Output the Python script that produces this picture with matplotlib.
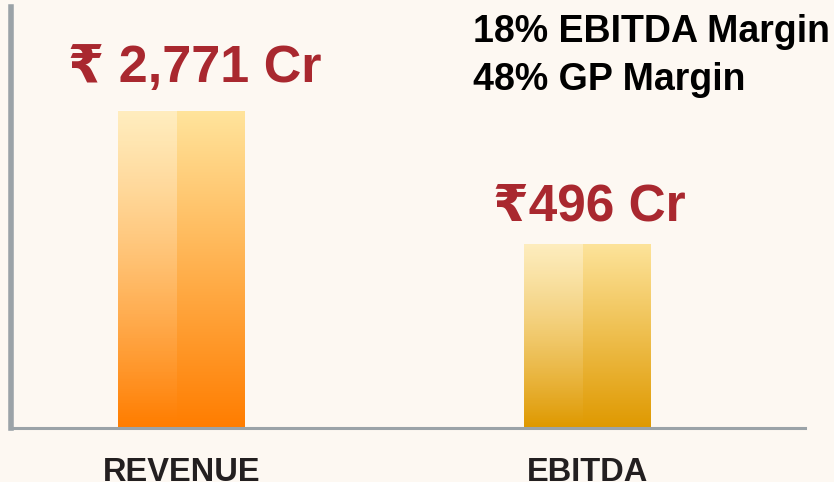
import numpy as np
import matplotlib
matplotlib.use("Agg")
import matplotlib.pyplot as plt
from matplotlib.colors import LinearSegmentedColormap

plt.rcParams['font.family'] = ['Liberation Sans', 'DejaVu Sans']

# ---- data ----
categories = ["REVENUE", "EBITDA"]
bar_heights = [75.3, 43.7]          # visual bar heights (axis units)
value_labels = ["\u20b9 2,771 Cr", "\u20b9496 Cr"]
margin_lines = ["18% EBITDA Margin", "48% GP Margin"]
top_colors = ["#FFE49C", "#FDE39A"]
bottom_colors = ["#FF7D00", "#DF9900"]

BG = "#FDF8F2"
RED = "#A9282F"
SPINE = "#9BA3A8"

fig = plt.figure(figsize=(8.34, 4.82), dpi=100, facecolor=BG)
W, H = 834, 482
ax = fig.add_axes([11 / W, (H - 428) / H, (805 - 11) / W, (428 - 7) / H])
ax.set_facecolor(BG)

x = np.arange(len(categories))
width = 0.313
bars = ax.bar(x, bar_heights, width=width, color="none", edgecolor="none", zorder=2)

ax.set_xlim(-0.4205, 1.5376)
ax.set_ylim(0, 100)

grad = np.linspace(1, 0, 256).reshape(-1, 1)
for i, b in enumerate(bars):
    x0, y0 = b.get_x(), b.get_y()
    w, h = b.get_width(), b.get_height()
    cmap = LinearSegmentedColormap.from_list("g%d" % i, [bottom_colors[i], top_colors[i]])
    im = ax.imshow(grad, cmap=cmap, vmin=0, vmax=1, aspect="auto",
                   extent=(x0, x0 + w, y0, y0 + h), origin="upper", zorder=2)
    im.set_clip_path(b)
    # lighter left strip
    a = np.zeros((256, 1, 4))
    a[..., :3] = 1.0
    a[:, 0, 3] = np.linspace(0.36, 0.0, 256)
    ax.imshow(a, aspect="auto", extent=(x0, x0 + w * 0.46, y0, y0 + h), origin="upper", zorder=3)

ax.set_xlim(-0.4205, 1.5376)
ax.set_ylim(0, 100)

# value labels above bars
ax.text(0.033, 82.2, value_labels[0], ha="center", va="baseline", fontsize=37.5,
        fontweight="bold", color=RED, zorder=5)
ax.text(1.006, 49.4, value_labels[1], ha="center", va="baseline", fontsize=37,
        fontweight="bold", color=RED, zorder=5)

# margin texts
fig.text(473 / W, 1 - 42 / H, margin_lines[0], ha="left", va="baseline", fontsize=27,
         fontweight="bold", color="#000000")
fig.text(473 / W, 1 - 90 / H, margin_lines[1], ha="left", va="baseline", fontsize=27,
         fontweight="bold", color="#000000")

# axes styling
for s in ["top", "right"]:
    ax.spines[s].set_visible(False)
ax.spines["left"].set_color(SPINE)
ax.spines["left"].set_linewidth(4)
ax.spines["bottom"].set_color(SPINE)
ax.spines["bottom"].set_linewidth(2.2)
ax.set_yticks([])
ax.set_xticks(x)
ax.set_xticklabels(categories, fontsize=23.5, fontweight="bold", color="#231F20")
ax.tick_params(axis="x", length=0, pad=21)

fig.savefig("out.png", dpi=100, facecolor=BG)
